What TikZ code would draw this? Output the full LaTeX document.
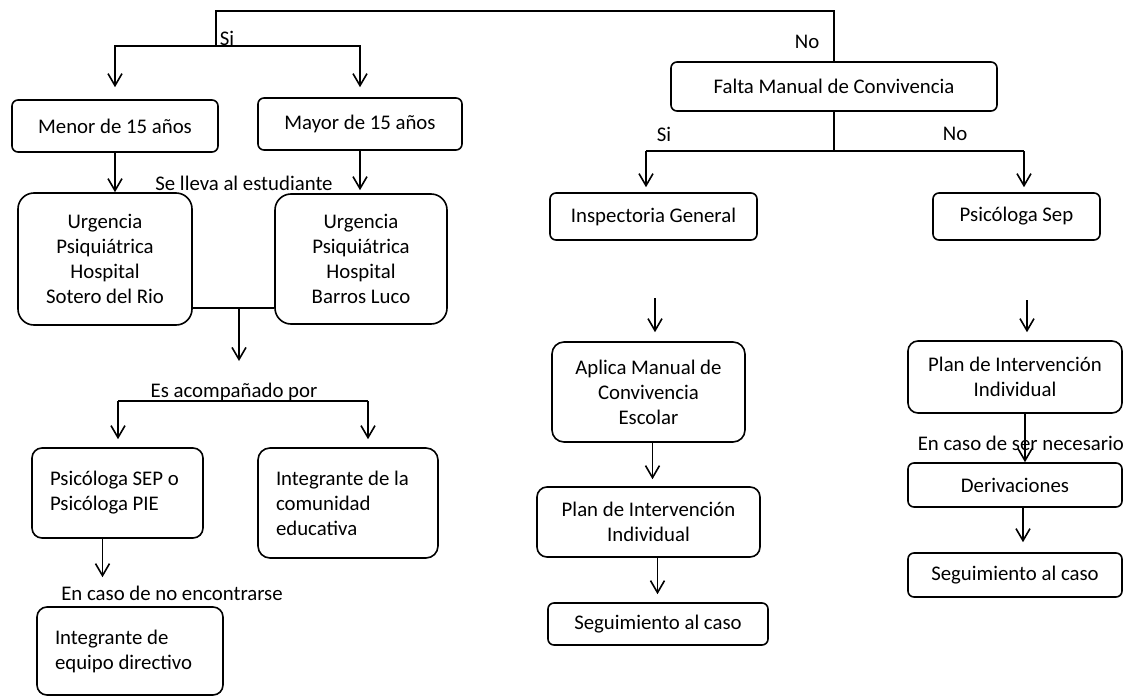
\documentclass[tikz,border=0pt]{standalone}
\usepackage{fontspec}
\setmainfont{Carlito}
\usetikzlibrary{arrows.meta,calc}

\begin{document}
\begin{tikzpicture}[x=0.5pt,y=-0.5pt,line width=0.8pt,
  every node/.style={font=\fontsize{10.4}{12.5}\selectfont},
  box/.style={draw, line width=0.8pt, inner sep=0pt, align=center},
  leftbox/.style={box, align=flush left, inner xsep=9pt},
  lbl/.style={inner sep=0pt},
  arr/.style={-{Straight Barb[length=6pt,width=7pt]}}]
\useasboundingbox (0,0) rectangle (1124,696);

% rama izquierda
\node[box, rounded corners=3pt, minimum width=103pt, minimum height=26pt] (menor) at (115,126) {Menor de 15 años};
\node[box, rounded corners=3pt, minimum width=102pt, minimum height=26pt] (mayor) at (360,124) {Mayor de 15 años};
\node[box, rounded corners=8pt, minimum width=87pt, minimum height=66pt] (sotero) at (105,259) {Urgencia\\Psiquiátrica\\Hospital\\Sotero del Rio};
\node[box, rounded corners=8pt, minimum width=86pt, minimum height=65pt] (barros) at (361,259) {Urgencia\\Psiquiátrica\\Hospital\\Barros Luco};
\node[leftbox, rounded corners=5pt, text width=67.5pt, minimum height=45pt] (psico) at (117.5,493) {Psicóloga SEP o\\Psicóloga PIE};
\node[leftbox, rounded corners=6pt, text width=72pt, minimum height=55pt] (comunidad) at (348,503) {Integrante de la\\comunidad\\educativa};
\node[leftbox, rounded corners=5pt, text width=75pt, minimum height=44pt] (equipo) at (130,651) {Integrante de\\equipo directivo};

% rama derecha
\node[box, rounded corners=3pt, minimum width=163pt, minimum height=24.5pt] (falta) at (834,86.5) {Falta Manual de Convivencia};
\node[box, rounded corners=3pt, minimum width=103.5pt, minimum height=23.5pt] (insp) at (653.5,216.5) {Inspectoria General};
\node[box, rounded corners=3pt, minimum width=83.5pt, minimum height=23.5pt] (psep) at (1016.5,216.5) {Psicóloga Sep};
\node[box, rounded corners=6pt, minimum width=96.5pt, minimum height=50pt] (aplica) at (648.5,392) {Aplica Manual de\\Convivencia\\Escolar};
\node[box, rounded corners=5pt, minimum width=111.5pt, minimum height=35pt] (planL) at (648.5,522) {Plan de Intervención\\Individual};
\node[box, rounded corners=3pt, minimum width=110pt, minimum height=21pt] (segL) at (658,624) {Seguimiento al caso};
\node[box, rounded corners=5pt, minimum width=107pt, minimum height=36pt] (planR) at (1015,377) {Plan de Intervención\\Individual};
\node[box, rounded corners=3pt, minimum width=107pt, minimum height=22pt] (deriv) at (1015,485) {Derivaciones};
\node[box, rounded corners=3pt, minimum width=107pt, minimum height=22pt] (segR) at (1015,575) {Seguimiento al caso};

% textos sueltos
\node[lbl, anchor=base west] (si1) at (219,45) {Si};
\node[lbl] (no1) at (807,42) {No};
\node[lbl] (lleva) at (244,183) {Se lleva al estudiante};
\node[lbl] (acomp) at (234,392) {Es acompañado por};
\node[lbl] (noenc) at (172,593) {En caso de no encontrarse};
\node[lbl] (si2) at (664,134) {Si};
\node[lbl] (no2) at (955,134) {No};
\node[lbl, anchor=west] (necesario) at (917,443) {En caso de ser necesario};

% conectores
\coordinate (si) at (216,46);
\coordinate (topleft) at (216,11);
\draw (si) -- (topleft) -| (falta.north);
\draw[arr, shorten >=6pt] (si) -| (menor.north);
\draw[arr, shorten >=5pt] (si) -| (mayor.north);
\draw[arr] (menor.south) -- (menor.south |- sotero.north);
\draw[arr, shorten >=1.5pt] (mayor.south) -- (mayor.south |- barros.north);

\coordinate (mid) at (239,308);
\coordinate (es) at (239,361);
\draw (sotero.east |- mid) -- (barros.west |- mid);
\draw[arr] (mid) -- (es);

\coordinate (acL) at (118,401);
\coordinate (acR) at (368,401);
\draw (acL) -- (acR);
\draw[arr, shorten >=4pt] (acL) -- (acL |- psico.north);
\draw[arr, shorten >=4pt] (acR) -- (acR |- comunidad.north);
\draw[arr, shorten >=14.5pt] ([xshift=-7.5pt]psico.south) -- ([xshift=-7.5pt]psico.south |- equipo.north);

\coordinate (fsplit) at (834,151);
\coordinate (fL) at (646,151);
\coordinate (fR) at (1024,151);
\draw (falta.south) -- (fsplit);
\draw (fL) -- (fR);
\draw[arr, shorten >=2.5pt] (fL) -- (fL |- insp.north);
\draw[arr, shorten >=2.5pt] (fR) -- (fR |- psep.north);

\coordinate (a1) at (655,298);
\coordinate (a2) at (1027,300);
\draw[arr, shorten >=4.5pt] (a1) -- (a1 |- aplica.north);
\draw[arr, shorten >=3.5pt] ([xshift=2pt]aplica.south) -- ([xshift=2pt]aplica.south |- planL.north);
\draw[arr, shorten >=4pt] ([xshift=4.5pt]planL.south) -- ([xshift=4.5pt]planL.south |- segL.north);
\draw[arr, shorten >=4pt] (a2) -- (a2 |- planR.north);
\draw[arr] ([xshift=5pt]planR.south) -- ([xshift=5pt]planR.south |- deriv.north);
\draw[arr, shorten >=5pt] ([xshift=4pt]deriv.south) -- ([xshift=4pt]deriv.south |- segR.north);
\end{tikzpicture}
\end{document}
